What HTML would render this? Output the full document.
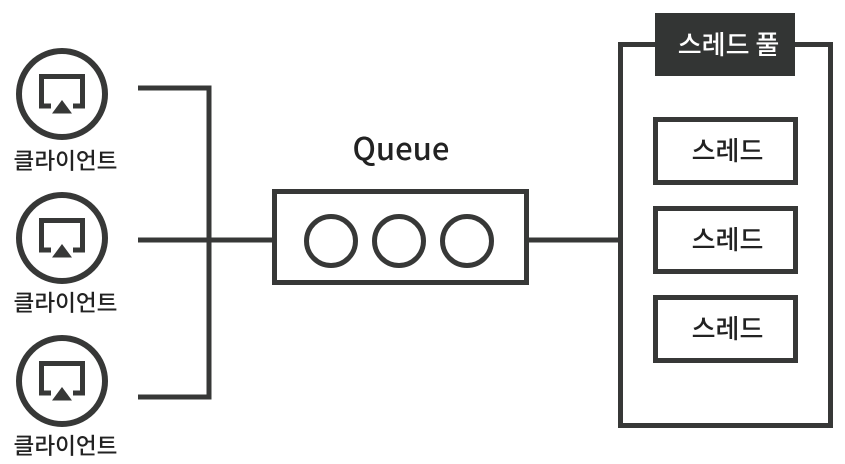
<!DOCTYPE html>
<html><head><meta charset="utf-8">
<style>html,body{margin:0;padding:0;background:#fff;width:845px;height:464px;overflow:hidden}svg{display:block}
text{font-family:"Noto Sans CJK KR","Liberation Sans",sans-serif;fill:#222;text-anchor:middle;font-weight:500}</style></head>
<body>
<svg width="845" height="464" viewBox="0 0 845 464" xmlns="http://www.w3.org/2000/svg">
<g fill="none" stroke="#373837" stroke-width="5">
<path d="M138 88H209V397H138" />
<path d="M138 240H274" />
<path d="M527 240H620" />
<rect x="274.500" y="191.500" width="252" height="91"/>
<circle cx="331" cy="241" r="24.500"/>
<circle cx="399" cy="241" r="24.500"/>
<circle cx="467" cy="241" r="24.500"/>
<path d="M656 44.500H620.500V425.500H830.500V44.500H795"/>
<rect x="655.500" y="119.500" width="140" height="63"/>
<rect x="655.500" y="208.500" width="140" height="63"/>
<rect x="655.500" y="297.500" width="140" height="63"/>
</g>
<rect x="655" y="13" width="140" height="63" fill="#333534"/>
<g><circle cx="62" cy="94" r="43" fill="none" stroke="#373837" stroke-width="6"/>
<path d="M51 106H41.500V76.500H82.500V106H73" fill="none" stroke="#373837" stroke-width="5"/>
<path d="M62 100L72 113.500H52Z" fill="#373837"/></g>
<g><circle cx="62" cy="238" r="43" fill="none" stroke="#373837" stroke-width="6"/>
<path d="M51 250H41.500V220.500H82.500V250H73" fill="none" stroke="#373837" stroke-width="5"/>
<path d="M62 244L72 257.500H52Z" fill="#373837"/></g>
<g><circle cx="62" cy="381" r="43" fill="none" stroke="#373837" stroke-width="6"/>
<path d="M51 393H41.500V363.500H82.500V393H73" fill="none" stroke="#373837" stroke-width="5"/>
<path d="M62 387L72 400.500H52Z" fill="#373837"/></g>
<text x="65.500" y="169" font-size="22.600">클라이언트</text>
<text x="65.500" y="311" font-size="22.600">클라이언트</text>
<text x="65.500" y="454" font-size="22.600">클라이언트</text>
<text x="401" y="160" font-size="31">Queue</text>
<text x="728.500" y="54" font-size="26" style="fill:#fff">스레드 풀</text>
<text x="727.500" y="160" font-size="26">스레드</text>
<text x="727.500" y="249" font-size="26">스레드</text>
<text x="727.500" y="338" font-size="26">스레드</text>
</svg>
</body></html>
